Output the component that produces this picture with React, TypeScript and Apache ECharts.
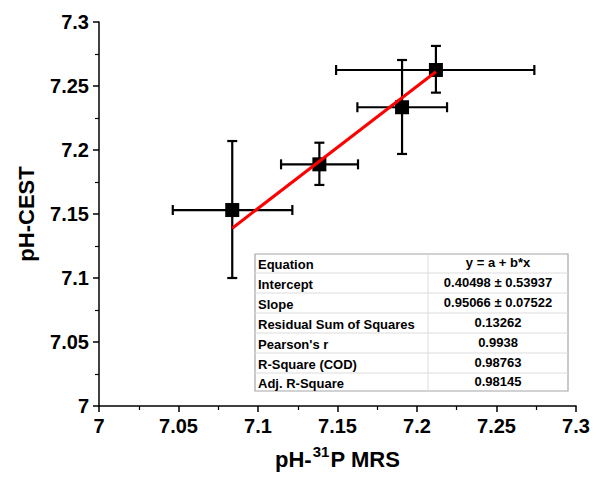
import React, { useEffect, useRef } from "react";
import * as echarts from "echarts";

// Data
const pointX = [7.0838, 7.1386, 7.1906, 7.2119];
const pointY = [7.1531, 7.1888, 7.2334, 7.2625];
const xErrLow = [7.0464, 7.1145, 7.1625, 7.1491];
const xErrHigh = [7.1216, 7.1629, 7.2189, 7.2738];
const yErrLow = [7.1, 7.1727, 7.1969, 7.2448];
const yErrHigh = [7.207, 7.2057, 7.2703, 7.2813];

const fitX = [7.0838, 7.2119];
const fitY = [7.1389, 7.2611];

const tableLabels = [
  "Equation",
  "Intercept",
  "Slope",
  "Residual Sum of Squares",
  "Pearson's r",
  "R-Square (COD)",
  "Adj. R-Square",
];
const tableValues = [
  "y = a + b*x",
  "0.40498 \u00b1 0.53937",
  "0.95066 \u00b1 0.07522",
  "0.13262",
  "0.9938",
  "0.98763",
  "0.98145",
];

const FONT = 'Arial, "Liberation Sans", Helvetica, sans-serif';

export default function App() {
  const ref = useRef<HTMLDivElement>(null);

  useEffect(() => {
    if (!ref.current) return;
    const chart = echarts.init(ref.current, undefined, { renderer: "svg" });

    const errData = pointX.map((x, i) => [
      x,
      pointY[i],
      xErrLow[i],
      xErrHigh[i],
      yErrLow[i],
      yErrHigh[i],
    ]);

    // table geometry (annotation box)
    const tL = 255;
    const tR = 568;
    const tC = 428;
    const rowEdges = [254, 273, 293, 313, 333, 353, 373, 391];
    const tableEls: any[] = [];
    tableEls.push({
      type: "rect",
      shape: { x: tL, y: rowEdges[0], width: tR - tL, height: rowEdges[7] - rowEdges[0] },
      style: { fill: "#fff", stroke: "#a6a6a6", lineWidth: 1.2 },
      z: 100,
    });
    for (let i = 1; i < rowEdges.length - 1; i++) {
      tableEls.push({
        type: "line",
        shape: { x1: tL, y1: rowEdges[i], x2: tR, y2: rowEdges[i] },
        style: { stroke: "#dcdcdc", lineWidth: 1 },
        z: 101,
      });
    }
    tableEls.push({
      type: "line",
      shape: { x1: tC, y1: rowEdges[0], x2: tC, y2: rowEdges[7] },
      style: { stroke: "#dcdcdc", lineWidth: 1 },
      z: 101,
    });
    tableLabels.forEach((lab, i) => {
      const cy = (rowEdges[i] + rowEdges[i + 1]) / 2;
      tableEls.push({
        type: "text",
        x: tL + 3,
        y: cy + 1,
        style: {
          text: lab,
          font: `bold 13px ${FONT}`,
          fill: "#000",
          textAlign: "left",
          textVerticalAlign: "middle",
        },
        z: 102,
      });
      tableEls.push({
        type: "text",
        x: (tC + tR) / 2,
        y: cy - 1,
        style: {
          text: tableValues[i],
          font: `bold 13px ${FONT}`,
          fill: "#000",
          textAlign: "center",
          textVerticalAlign: "middle",
        },
        z: 102,
      });
    });

    const axisCommon = {
      min: 7,
      max: 7.3,
      interval: 0.05,
      axisLine: { show: true, onZero: false, lineStyle: { color: "#000", width: 1.5 } },
      axisTick: { show: true, inside: false, length: 6, lineStyle: { color: "#000", width: 1.5 } },
      minorTick: { show: true, splitNumber: 2, length: 4, lineStyle: { color: "#000", width: 1.2 } },
      splitLine: { show: false },
      axisLabel: {
        color: "#000",
        fontSize: 20,
        fontWeight: "bold",
        fontFamily: FONT,
        margin: 10,
        showMinLabel: true,
        showMaxLabel: true,
      },
      nameLocation: "middle",
      nameTextStyle: { color: "#000", fontSize: 22, fontWeight: "bold", fontFamily: FONT },
    };

    chart.setOption({
      animation: false,
      grid: { left: 99, right: 17, top: 22, bottom: 74, containLabel: false },
      xAxis: {
        type: "value",
        ...axisCommon,
        name: "{a|pH-}{s|31}{a|P MRS}",
        nameGap: 38,
        nameTextStyle: {
          ...axisCommon.nameTextStyle,
          rich: {
            a: { fontSize: 22, fontWeight: "bold", fontFamily: FONT, color: "#000", lineHeight: 26, verticalAlign: "bottom" },
            s: { fontSize: 15, fontWeight: "bold", fontFamily: FONT, color: "#000", lineHeight: 26, verticalAlign: "top", padding: [0, 1, 8, 1] },
          },
        },
      },
      yAxis: {
        type: "value",
        ...axisCommon,
        name: "pH-CEST",
        nameGap: 62,
      },
      series: [
        {
          type: "custom",
          data: errData,
          z: 2,
          renderItem: (params: any, api: any) => {
            const x = api.value(0);
            const y = api.value(1);
            const xl = api.coord([api.value(2), y]);
            const xh = api.coord([api.value(3), y]);
            const yl = api.coord([x, api.value(4)]);
            const yh = api.coord([x, api.value(5)]);
            const cap = 5;
            const st = { stroke: "#000", lineWidth: 2.2 };
            return {
              type: "group",
              children: [
                { type: "line", shape: { x1: xl[0], y1: xl[1], x2: xh[0], y2: xh[1] }, style: st },
                { type: "line", shape: { x1: xl[0], y1: xl[1] - cap, x2: xl[0], y2: xl[1] + cap }, style: st },
                { type: "line", shape: { x1: xh[0], y1: xh[1] - cap, x2: xh[0], y2: xh[1] + cap }, style: st },
                { type: "line", shape: { x1: yl[0], y1: yl[1], x2: yh[0], y2: yh[1] }, style: st },
                { type: "line", shape: { x1: yl[0] - cap, y1: yl[1], x2: yl[0] + cap, y2: yl[1] }, style: st },
                { type: "line", shape: { x1: yh[0] - cap, y1: yh[1], x2: yh[0] + cap, y2: yh[1] }, style: st },
              ],
            };
          },
        },
        {
          type: "scatter",
          data: pointX.map((x, i) => [x, pointY[i]]),
          symbol: "rect",
          symbolSize: 14,
          itemStyle: { color: "#000", opacity: 1 },
          z: 3,
        },
        {
          type: "line",
          data: fitX.map((x, i) => [x, fitY[i]]),
          showSymbol: false,
          symbol: "none",
          lineStyle: { color: "#ff0000", width: 3 },
          z: 4,
        },
      ],
      graphic: tableEls,
    });

    return () => chart.dispose();
  }, []);

  return (
    <div
      ref={ref}
      style={{ position: "absolute", left: 0, top: 0, width: 593, height: 480 }}
    />
  );
}
